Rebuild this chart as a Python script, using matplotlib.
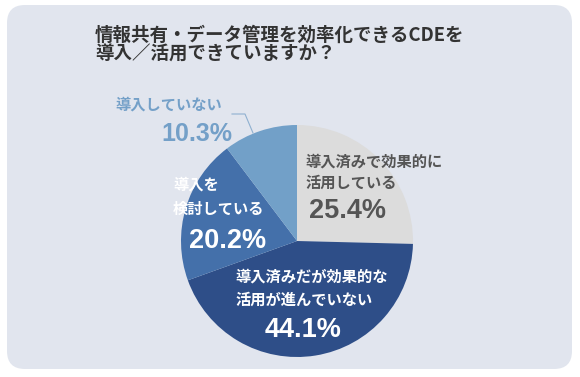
import matplotlib.pyplot as plt
from matplotlib.patches import FancyBboxPatch

plt.rcParams['font.family'] = ['Noto Sans CJK JP', 'DejaVu Sans']

title = ['情報共有・データ管理を効率化できるCDEを', '導入／活用できていますか？']
labels = ['導入済みで効果的に\n活用している', '導入済みだが効果的な\n活用が進んでいない',
          '導入を\n検討している', '導入していない']
values = [25.4, 44.1, 20.2, 10.3]
colors = ['#dcdcdc', '#2e4e88', '#4470aa', '#72a0c8']

numfont = ['Liberation Sans', 'DejaVu Sans']

fig = plt.figure(figsize=(5.8, 3.77), dpi=100)
ax = fig.add_axes([0, 0, 1, 1])

panel = FancyBboxPatch((7 + 18, 5 + 18), 565 - 36, 364 - 36,
                       boxstyle='round,pad=18', fc='#e1e5ee', ec='none')
ax.add_patch(panel)

for i, line in enumerate(title):
    ax.text(95, 35 + 19 * i, line, fontsize=13.3, fontweight='bold', color='#333333',
            ha='left', va='center')

ax.pie(values, colors=colors, startangle=-90, counterclock=True,
       center=(297, 241), radius=116, wedgeprops=dict(linewidth=0))
ax.set_xlim(0, 580)
ax.set_ylim(377, 0)
ax.set_aspect('equal')
ax.axis('off')

# leader line for the small slice
ax.plot([232, 245, 253], [114, 114, 133], color='#8fb0d0', lw=0.8)


def label(x, y, text, color, ha='left', gap=22):
    for i, line in enumerate(text.split('\n')):
        ax.text(x, y + gap * i, line, fontsize=11, fontweight='bold', color=color,
                ha=ha, va='center')


def pct(x, y, v, color, size=19.5):
    cap = size / 72 * 100 * 0.72
    ax.text(x, y + cap / 2, f'{v}%', fontsize=size, fontweight='bold', color=color,
            ha='center', va='baseline', family=numfont)


# 25.4%
label(305, 162, labels[0], '#555555', gap=21)
pct(347, 208, values[0], '#555555')
# 44.1%
label(235, 277, labels[1], 'white', gap=23)
pct(303, 327, values[1], 'white')
# 20.2%
label(173, 185, labels[2], 'white', gap=24)
pct(228, 238, values[2], 'white')
# 10.3%
label(169, 105, labels[3], '#74a0c8', ha='center')
pct(197, 132, values[3], '#74a0c8', size=18)

fig.savefig('out.png', dpi=100)
